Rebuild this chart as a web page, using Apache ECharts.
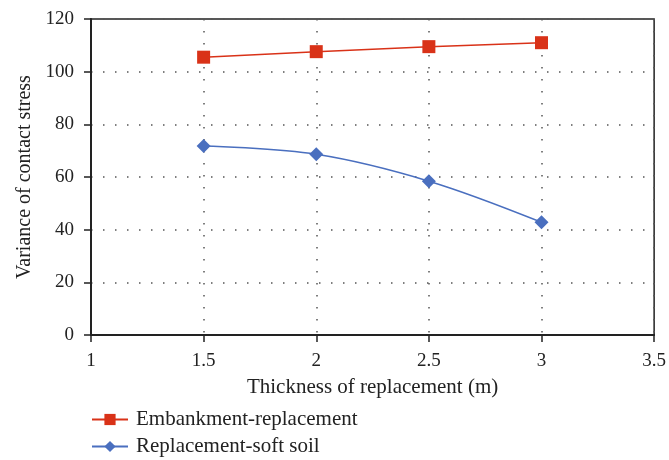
<!DOCTYPE html>
<html><head><meta charset="utf-8">
<script src="https://cdn.jsdelivr.net/npm/echarts@6/dist/echarts.min.js"></script>
<style>html,body{margin:0;padding:0;background:#fff}#c{width:669px;height:460px}</style>
</head><body><div id="c"></div>
<script>
const thickness = [1.5, 2, 2.5, 3];
const embankmentReplacement = [105.5, 107.6, 109.5, 111.0];
const replacementSoftSoil = [71.8, 68.6, 58.4, 42.8];
const seriesNames = ['Embankment-replacement', 'Replacement-soft soil'];
const xTitle = 'Thickness of replacement (m)';
const yTitle = 'Variance of contact stress';

const font = 'Liberation Serif';
const chart = echarts.init(document.getElementById('c'), null, {renderer: 'canvas'});
const pts = (ys) => thickness.map((x, i) => [x, ys[i]]);
const grid = {type: [1.5, 10.5], color: '#555', width: 1.5};
chart.setOption({
  animation: false,
  textStyle: {fontFamily: font},
  grid: {left: 91, right: 13, top: 19, bottom: 125, show: true, borderColor: '#222', borderWidth: 1.5},
  legend: {
    orient: 'vertical', left: 91, top: 409, padding: 0, height: 51, itemGap: 6, itemWidth: 36, itemHeight: 14,
    textStyle: {fontFamily: font, fontSize: 21, color: '#222', padding: [0, 0, 0, 3]},
    data: seriesNames
  },
  xAxis: {
    type: 'value', min: 1, max: 3.5, interval: 0.5,
    name: xTitle, nameLocation: 'middle', nameGap: 42,
    nameTextStyle: {fontFamily: font, fontSize: 21, color: '#222'},
    axisLine: {lineStyle: {color: '#222', width: 2}},
    axisTick: {show: true, length: 7, lineStyle: {color: '#222', width: 1.5}},
    axisLabel: {fontFamily: font, fontSize: 19, color: '#222', margin: 17},
    splitLine: {show: true, lineStyle: grid}
  },
  yAxis: {
    type: 'value', min: 0, max: 120, interval: 20,
    name: yTitle, nameLocation: 'middle', nameGap: 56, nameRotate: 90,
    nameTextStyle: {fontFamily: font, fontSize: 20, color: '#222'},
    axisLine: {show: true, lineStyle: {color: '#222', width: 2}},
    axisTick: {show: true, length: 7, lineStyle: {color: '#222', width: 1.5}},
    axisLabel: {fontFamily: font, fontSize: 19, color: '#222', margin: 17},
    splitLine: {show: true, lineStyle: grid}
  },
  series: [
    {
      name: seriesNames[0], type: 'line', data: pts(embankmentReplacement),
      symbol: 'rect', symbolSize: 13, color: '#d93218',
      lineStyle: {width: 1.5, color: '#d93218'},
      itemStyle: {color: '#d93218'}
    },
    {
      name: seriesNames[1], type: 'line', data: pts(replacementSoftSoil),
      symbol: 'diamond', symbolSize: 14, color: '#4a6fbf', smooth: 0.35,
      lineStyle: {width: 1.5, color: '#4a6fbf'},
      itemStyle: {color: '#4a6fbf'}
    }
  ]
});
</script></body></html>
